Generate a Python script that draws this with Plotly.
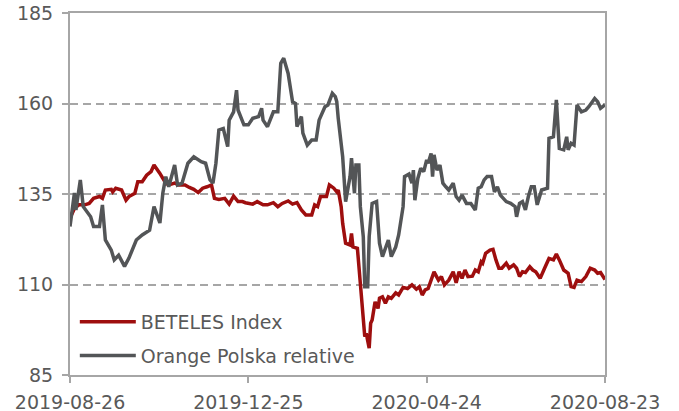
import pandas as pd
import plotly.graph_objects as go

START = "2019-08-26"

# Orange Polska relative: days since START and values
gray_days = [0, 3, 4, 7, 9, 12, 14, 16, 20, 22, 24, 28, 30, 33, 37, 40, 45, 49, 54, 57,
             59, 61, 63, 65, 67, 71, 73, 76, 80, 84, 89, 92, 95, 97, 99, 101, 104, 107, 108, 111,
             113, 114, 118, 121, 124, 128, 130, 131, 134, 138, 141, 143, 145, 148, 151, 153, 154, 157, 158, 161,
             164, 167, 169, 173, 175, 178, 180, 181, 182, 185, 187, 190, 191, 193, 194, 196, 197, 199, 200, 202,
             203, 205, 208, 210, 212, 214, 216, 218, 221, 223, 226, 227, 230, 232, 233, 234, 236, 238, 240, 242,
             243, 245, 246, 247, 249, 251, 253, 255, 257, 260, 262, 264, 266, 269, 272, 275, 277, 279, 281, 283,
             286, 288, 290, 292, 296, 299, 302, 303, 305, 307, 309, 311, 313, 315, 317, 320, 324, 325, 328, 330,
             332, 335, 337, 338, 340, 342, 343, 344, 347, 350, 352, 356, 358, 360, 363]
gray_vals = [126.0, 135.3, 130.6, 138.9, 131.5, 129.7, 128.7, 126.0, 126.0, 132.0, 122.3, 119.5, 116.8, 118.1, 115.0, 117.3, 122.3, 123.7, 125.0, 131.5,
             129.5, 127.0, 135.3, 139.8, 137.0, 143.0, 137.5, 138.0, 143.5, 145.3, 143.9, 143.5, 138.9, 138.0, 143.5, 152.7, 153.1, 148.1, 155.4, 157.7,
             163.7, 158.2, 154.1, 154.1, 155.9, 156.4, 158.7, 155.4, 153.6, 157.7, 157.7, 171.1, 172.5, 168.3, 160.5, 160.0, 153.6, 156.4, 151.8, 148.5,
             149.9, 149.9, 155.4, 159.1, 159.6, 162.8, 161.9, 160.5, 155.9, 145.3, 132.9, 139.8, 144.9, 135.2, 143.0, 143.0, 131.5, 123.2, 109.4, 109.4,
             123.2, 132.4, 132.9, 121.4, 117.7, 120.4, 122.3, 117.7, 120.4, 123.7, 131.5, 139.8, 140.5, 138.0, 141.6, 133.3, 139.3, 142.1, 141.2, 144.4,
             143.5, 146.2, 139.8, 145.8, 141.6, 143.0, 138.0, 137.0, 136.1, 138.0, 134.3, 133.3, 134.7, 132.4, 132.4, 130.6, 136.6, 137.0, 138.9, 139.8,
             139.8, 135.6, 137.0, 134.7, 132.9, 132.4, 131.5, 128.7, 132.4, 132.9, 130.6, 134.3, 137.0, 137.0, 132.0, 136.1, 136.6, 150.4, 150.8, 161.0,
             147.6, 147.2, 150.8, 147.2, 149.0, 148.5, 153.6, 159.6, 157.7, 158.2, 159.1, 161.4, 160.5, 158.7, 159.6]

# BETELES Index: days since START and values
red_days = [0, 3, 6, 10, 13, 16, 20, 22, 24, 28, 29, 31, 35, 38, 40, 44, 46, 49, 52, 55,
            57, 58, 61, 63, 65, 67, 71, 74, 78, 81, 84, 87, 90, 93, 96, 98, 101, 105, 108, 111,
            114, 117, 119, 124, 127, 131, 134, 138, 141, 144, 148, 151, 154, 157, 160, 164, 166, 168, 170, 174,
            176, 179, 181, 182, 184, 185, 187, 190, 191, 192, 195, 197, 198, 200, 201, 203, 204, 205, 207, 209,
            210, 212, 214, 216, 218, 221, 223, 226, 229, 232, 235, 237, 239, 241, 243, 245, 247, 250, 252, 254,
            257, 260, 262, 264, 266, 268, 270, 273, 275, 277, 279, 280, 282, 285, 287, 289, 291, 293, 296, 298,
            301, 303, 305, 307, 309, 312, 314, 316, 319, 322, 325, 328, 330, 332, 335, 338, 340, 342, 344, 347,
            350, 353, 356, 358, 360, 363]
red_vals = [128.3, 131.0, 132.0, 132.0, 132.4, 133.8, 134.3, 133.8, 136.1, 136.3, 135.6, 136.6, 136.1, 133.3, 134.3, 135.2, 138.4, 138.4, 140.2, 141.2,
            143.0, 142.5, 140.7, 139.3, 138.0, 137.5, 138.0, 137.5, 137.5, 136.8, 136.3, 135.4, 136.6, 137.0, 137.5, 133.8, 133.5, 133.8, 132.2, 134.4,
            132.9, 132.9, 132.6, 132.2, 132.9, 132.0, 132.0, 132.6, 131.5, 132.4, 133.1, 132.2, 132.6, 130.6, 129.2, 129.2, 132.0, 131.5, 134.3, 134.3,
            137.5, 136.6, 135.6, 136.1, 131.5, 126.9, 121.4, 120.9, 124.1, 120.4, 120.0, 110.3, 106.2, 95.6, 96.5, 92.4, 99.3, 100.2, 105.2, 103.4,
            106.2, 106.6, 104.8, 106.6, 106.2, 107.7, 107.1, 109.2, 108.9, 109.9, 108.7, 109.4, 107.1, 108.5, 108.9, 111.2, 113.5, 111.2, 112.2, 109.9,
            111.2, 113.5, 110.5, 113.5, 111.7, 114.0, 112.2, 112.3, 114.0, 113.5, 116.3, 115.9, 118.6, 119.5, 119.7, 116.8, 114.5, 114.5, 115.9, 114.5,
            115.4, 114.5, 112.2, 113.5, 113.3, 114.9, 114.0, 113.5, 111.7, 114.5, 117.2, 116.8, 118.4, 116.8, 114.0, 113.1, 109.4, 109.2, 111.2, 110.8,
            112.2, 114.5, 114.0, 113.1, 113.3, 111.4]

x_ticks = ["2019-08-26", "2019-12-25", "2020-04-24", "2020-08-23"]
y_ticks = [85, 110, 135, 160, 185]

start = pd.Timestamp(START)
gray_x = [start + pd.Timedelta(days=d) for d in gray_days]
red_x = [start + pd.Timedelta(days=d) for d in red_days]

RED = "#9E0E0E"
GRAY = "#535557"
AXIS = "#A6A6A6"
TXT = "#595959"
FONT = "DejaVu Sans"

fig = go.Figure()
fig.add_trace(go.Scatter(x=red_x, y=red_vals, mode="lines", name="BETELES Index",
                         line=dict(color=RED, width=3.5), legendgroup="a"))
fig.add_trace(go.Scatter(x=gray_x, y=gray_vals, mode="lines", name="Orange Polska relative",
                         line=dict(color=GRAY, width=3.5), legendgroup="b"))

fig.update_layout(
    width=679, height=411,
    margin=dict(l=70, r=74, t=13, b=36),
    paper_bgcolor="white", plot_bgcolor="white",
    font=dict(family=FONT, size=19, color=TXT),
    showlegend=True,
    legend=dict(x=0.009, y=0.0, xanchor="left", yanchor="bottom",
                bgcolor="rgba(0,0,0,0)", tracegroupgap=6, itemwidth=56,
                font=dict(family=FONT, size=19, color=TXT)),
)
fig.update_xaxes(
    type="date", range=[x_ticks[0], x_ticks[-1]],
    tickvals=x_ticks, ticktext=x_ticks, automargin=False,
    ticklabeloverflow="allow",
    showgrid=False, zeroline=False,
    showline=True, linecolor=AXIS, linewidth=2, mirror=True,
    ticks="outside", ticklen=6, tickwidth=2, tickcolor=AXIS,
    ticklabelstandoff=3,
    tickfont=dict(family=FONT, size=19, color=TXT),
)
fig.update_yaxes(
    range=[y_ticks[0], y_ticks[-1]], tickvals=y_ticks, automargin=False,
    ticklabeloverflow="allow",
    showgrid=True, gridcolor=AXIS, gridwidth=1.5, griddash="8px,5px",
    zeroline=False,
    showline=True, linecolor=AXIS, linewidth=2, mirror=True,
    ticks="outside", ticklen=6, tickwidth=2, tickcolor=AXIS,
    ticklabelstandoff=5,
    tickfont=dict(family=FONT, size=19, color=TXT),
)

# remove the page's default 8px body margin so the figure sits at the window's corner
fig.write_html("out.html", config={"displayModeBar": False},
               post_script="document.body.style.margin='0';")
